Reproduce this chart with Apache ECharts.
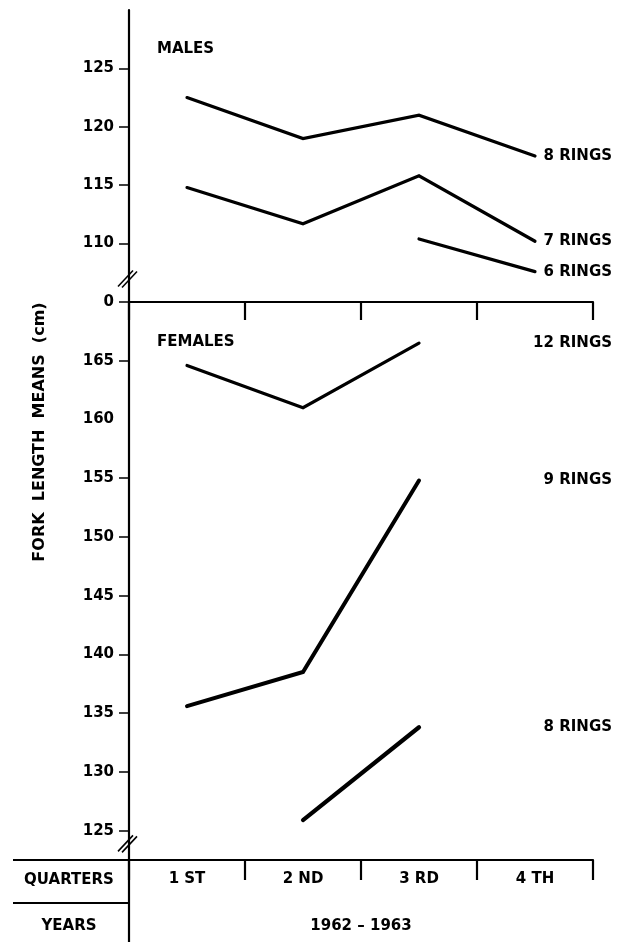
<!DOCTYPE html>
<html><head><meta charset="utf-8">
<script src="https://cdn.jsdelivr.net/npm/echarts@6/dist/echarts.min.js"></script>
<style>html,body{margin:0;padding:0;background:#fff}#c{width:630px;height:942px}</style>
</head><body><div id="c"></div>
<script>
// ---- data ----
const quarters = ['1 ST', '2 ND', '3 RD', '4 TH'];
const males8 = [122.5, 119.0, 121.0, 117.5];
const males7 = [114.8, 111.7, 115.8, 110.2];
const males6 = [null, null, 110.4, 107.6];
const females12 = [164.6, 161.0, 166.5, null];
const females9 = [135.6, 138.5, 154.8, null];
const females8 = [null, 125.9, 133.8, null];
const maleTicks = [105, 110, 115, 120, 125];
const femaleLabelTicks = [125, 130, 135, 140, 145, 150, 155, 160, 165];
const femaleTickMarks = [125, 130, 135, 140, 145, 150, 155, 165];
const yearsLabel = '1962 – 1963';

const FONT = '"DejaVu Sans", sans-serif';
const txt = {fontFamily: FONT, fontWeight: 'bold', fontSize: 15, color: '#000'};
const axisLineStyle = {color: '#000', width: 2.2};

const chart = echarts.init(document.getElementById('c'), null, {renderer: 'canvas'});

function lineSeries(name, data, xi, yi, w) {
  return {
    name, type: 'line', data, xAxisIndex: xi, yAxisIndex: yi,
    showSymbol: false, symbol: 'none', connectNulls: false,
    lineStyle: {color: '#000', width: w || 3.2, cap: 'round', join: 'miter'},
    itemStyle: {color: '#000'}, z: 5
  };
}

const option = {
  animation: false,
  backgroundColor: '#fff',
  grid: [
    {left: 129, top: 10, width: 464, height: 292},
    {left: 129, top: 302, width: 464, height: 558}
  ],
  xAxis: [
    {gridIndex: 0, type: 'category', data: quarters, position: 'bottom', boundaryGap: true,
     axisLine: {show: true, onZero: false, lineStyle: axisLineStyle},
     axisTick: {show: true, inside: false, length: 18, lineStyle: axisLineStyle},
     axisLabel: {show: false}, splitLine: {show: false}},
    {gridIndex: 1, type: 'category', data: quarters, position: 'bottom', boundaryGap: true,
     axisLine: {show: true, onZero: false, lineStyle: axisLineStyle},
     axisTick: {show: true, inside: false, length: 20, lineStyle: axisLineStyle},
     axisLabel: Object.assign({margin: 12}, txt), splitLine: {show: false}}
  ],
  yAxis: [
    {gridIndex: 0, type: 'value', min: 105, max: 130,
     axisLine: {show: true, lineStyle: axisLineStyle},
     axisTick: {show: true, inside: false, length: 10, customValues: maleTicks, lineStyle: {color: '#000', width: 1.5}},
     axisLabel: Object.assign({customValues: maleTicks, margin: 15,
       formatter: v => (v === 105 ? '0' : String(v))}, txt),
     splitLine: {show: false}},
    {gridIndex: 1, type: 'value', min: 122.5, max: 170,
     axisLine: {show: true, lineStyle: axisLineStyle},
     axisTick: {show: true, inside: false, length: 10, customValues: femaleTickMarks, lineStyle: {color: '#000', width: 1.5}},
     axisLabel: Object.assign({customValues: femaleLabelTicks, margin: 15}, txt),
     splitLine: {show: false}}
  ],
  series: [
    lineSeries('M8', males8, 0, 0),
    lineSeries('M7', males7, 0, 0),
    lineSeries('M6', males6, 0, 0),
    lineSeries('F12', females12, 1, 1),
    lineSeries('F9', females9, 1, 1, 4),
    lineSeries('F8', females8, 1, 1, 4.2)
  ]
};
chart.setOption(option);

// ---- decorations (labels, table, breaks) ----
function lastVal(arr) { for (let i = arr.length - 1; i >= 0; i--) if (arr[i] != null) return arr[i]; return null; }
function yPix(grid, v) { return chart.convertToPixel({gridIndex: grid}, [0, v])[1]; }
const axisX = chart.getModel().getComponent('grid', 0).coordinateSystem.getRect().x;
const rect1 = chart.getModel().getComponent('grid', 1).coordinateSystem.getRect();
const bottomY = rect1.y + rect1.height;

function text(t, x, y, opts) {
  return Object.assign({
    type: 'text', x, y, z: 10,
    style: Object.assign({text: t, font: 'bold 15px ' + FONT, fill: '#000',
      textAlign: 'left', textVerticalAlign: 'middle', align: 'left', verticalAlign: 'middle'}, (opts && opts.style) || {})
  }, opts && opts.rotation ? {rotation: opts.rotation} : {});
}
function rtext(t, x, y) { return text(t, x, y, {style: {textAlign: 'right', align: 'right'}}); }
function ctext(t, x, y) { return text(t, x, y, {style: {textAlign: 'center', align: 'center'}}); }
function line(x1, y1, x2, y2, w) {
  return {type: 'line', z: 10, shape: {x1, y1, x2, y2}, style: {stroke: '#000', lineWidth: w || 2.2}};
}
function brk(y) {
  return [line(axisX - 11, y + 9, axisX + 4, y - 7, 1.5), line(axisX - 7, y + 10, axisX + 8, y - 6, 1.5)];
}

const rings = [
  ['8 RINGS', 0, males8], ['7 RINGS', 0, males7], ['6 RINGS', 0, males6],
  ['12 RINGS', 1, females12], ['9 RINGS', 1, females9], ['8 RINGS', 1, females8]
];
const elements = [];
rings.forEach(r => elements.push(rtext(r[0], 612, yPix(r[1], lastVal(r[2])))));
elements.push(text('MALES', 157, 49));
elements.push(text('FEMALES', 157, 342));
elements.push(line(13, bottomY, axisX, bottomY));
elements.push(line(13, bottomY + 43, axisX, bottomY + 43));
elements.push(line(axisX, bottomY, axisX, 942));
elements.push(ctext('QUARTERS', 69, bottomY + 20));
elements.push(ctext('YEARS', 69, bottomY + 66));
elements.push(ctext(yearsLabel, rect1.x + rect1.width / 2, bottomY + 66));
elements.push({type: 'text', x: 40, y: 432, rotation: Math.PI / 2, z: 10,
  style: {text: 'FORK  LENGTH  MEANS  (cm)', font: 'bold 16px ' + FONT, fill: '#000',
    textAlign: 'center', textVerticalAlign: 'middle', align: 'center', verticalAlign: 'middle'}});
brk(yPix(0, 107.1)).forEach(e => elements.push(e));
brk(yPix(1, 124.0)).forEach(e => elements.push(e));
chart.setOption({graphic: {elements}});
</script>
</body></html>
